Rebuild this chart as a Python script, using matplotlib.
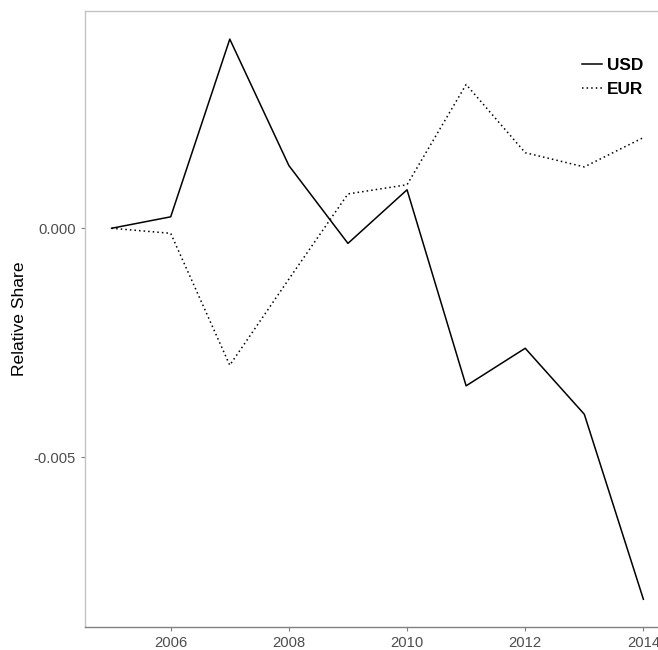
import matplotlib
matplotlib.use("Agg")
import matplotlib.pyplot as plt

plt.rcParams['font.family'] = ['Liberation Sans', 'DejaVu Sans']

# data
years = [2005, 2006, 2007, 2008, 2009, 2010, 2011, 2012, 2013, 2014]
usd = [0.0, 0.00025, 0.00413, 0.00137, -0.00033, 0.00084, -0.00344, -0.00262, -0.00406, -0.0081]
eur = [0.0, -0.00011, -0.00299, -0.00111, 0.00075, 0.00095, 0.00314, 0.00165, 0.00134, 0.00198]
x_ticks = [2006, 2008, 2010, 2012, 2014]
y_ticks = [-0.005, 0.0]
y_ticklabels = ["-0.005", "0.000"]

fig = plt.figure(figsize=(6.58, 6.5), dpi=100)
# panel runs past the right edge of the picture, as in the reference
ax = fig.add_axes([0.1292, 0.0351, 0.889, 0.9477])

ax.plot(years, usd, color="black", lw=1.1, label="USD")
ax.plot(years, eur, color="black", lw=1.1, linestyle=(0, (1, 2)), label="EUR")

ax.set_xlim(2004.55, 2014.45)
ax.set_ylim(-0.00871, 0.00474)
ax.set_xticks(x_ticks)
ax.set_yticks(y_ticks)
ax.set_yticklabels(y_ticklabels)

for side in ["left", "top"]:
    ax.spines[side].set_color("#c4c4c4")
    ax.spines[side].set_linewidth(1.0)
ax.spines["bottom"].set_color("#808080")
ax.spines["bottom"].set_linewidth(1.0)
ax.spines["right"].set_visible(False)

ax.tick_params(axis="both", length=3, width=0.8, color="#808080",
               labelcolor="#4d4d4d", labelsize=10.6, pad=3.6)

ax.set_ylabel("Relative Share", fontsize=12.6, color="black")
ax.yaxis.set_label_coords(-0.1, 0.5)

leg = ax.legend(loc="upper left", bbox_to_anchor=(0.884, 0.911),
                bbox_transform=fig.transFigure, frameon=False,
                prop={"weight": "bold", "size": 12.4},
                handlelength=1.17, handletextpad=0.3, labelspacing=0.5,
                borderpad=0, borderaxespad=0)

fig.savefig("out.png", dpi=100)
